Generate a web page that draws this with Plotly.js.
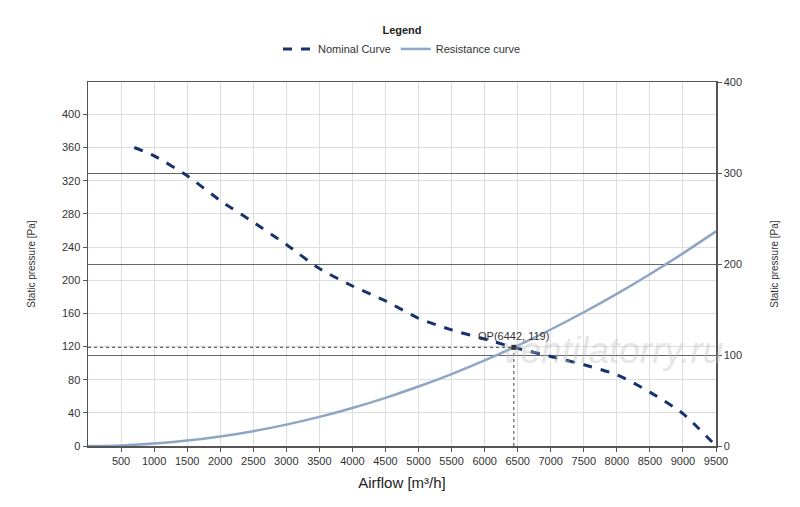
<!DOCTYPE html>
<html>
<head>
<meta charset="utf-8">
<script src="https://cdn.plot.ly/plotly-3.0.1.min.js"></script>
<style>
  html, body { margin: 0; padding: 0; background: #ffffff; }
  #chart { width: 800px; height: 507px; }
</style>
</head>
<body>
<div id="chart"></div>
<script>
// airflow values, m3/h
const nominalFlow = [700, 1000, 1500, 2000, 2500, 3000, 3500, 4000, 4500, 5000, 5500, 6000, 6442, 7000, 7500, 8000, 8500, 9000, 9500]
const nominalPressure = [360, 350, 326, 296, 270, 243, 214, 193, 175, 154, 140, 129, 119, 108, 98, 86, 65, 39, 0]

const resistanceFlow = [0, 500, 1000, 1500, 2000, 2500, 3000, 3500, 4000, 4500, 5000, 5500, 6000, 6500, 7000, 7500, 8000, 8500, 9000, 9500]
const resistancePressure = [0, 0.7, 2.9, 6.5, 11.5, 17.9, 25.8, 35.1, 45.9, 58.1, 71.7, 86.7, 103.2, 121.1, 140.5, 161.3, 183.5, 207.2, 232.3, 258.8]

const opFlow = 6442
const opPressure = 119

const flowTicks = [500, 1000, 1500, 2000, 2500, 3000, 3500, 4000, 4500, 5000, 5500, 6000, 6500, 7000, 7500, 8000, 8500, 9000, 9500]
const leftTicks = [0, 40, 80, 120, 160, 200, 240, 280, 320, 360, 400]
const rightTicks = [0, 100, 200, 300, 400]

const font = 'Liberation Sans, Arial, sans-serif'
const navy = '#16336e'
const steel = '#8ea6c6'

const traces = [
  {
    type: 'scatter',
    mode: 'lines',
    name: 'Nominal Curve',
    x: nominalFlow,
    y: nominalPressure,
    line: { color: navy, width: 3, dash: 'dash', shape: 'spline', smoothing: 0.6 },
    hoverinfo: 'x+y',
  },
  {
    type: 'scatter',
    mode: 'lines',
    name: 'Resistance curve',
    x: resistanceFlow,
    y: resistancePressure,
    line: { color: steel, width: 2.5, shape: 'spline', smoothing: 0.6 },
    hoverinfo: 'x+y',
  },
  {
    type: 'scatter',
    mode: 'markers',
    x: [opFlow],
    y: [opPressure],
    marker: { symbol: 'square', size: 5, color: '#333333' },
    showlegend: false,
    hoverinfo: 'x+y',
  },
  {
    // right hand axis carries no data of its own, just keeps it drawn
    type: 'scatter',
    mode: 'lines',
    x: [0],
    y: [0],
    yaxis: 'y2',
    showlegend: false,
    hoverinfo: 'skip',
    line: { width: 0 },
  },
]

const layout = {
  width: 800,
  height: 507,
  margin: { t: 82, r: 84, b: 61, l: 88 },
  paper_bgcolor: '#ffffff',
  plot_bgcolor: '#ffffff',
  font: { family: font, size: 11, color: '#333333' },
  showlegend: true,
  legend: {
    orientation: 'h',
    x: 0.5,
    xanchor: 'center',
    y: 1.17,
    yanchor: 'top',
    font: { size: 11, color: '#333333' },
    title: { text: '<b>Legend</b>', side: 'top center', font: { size: 11, color: '#222222' } },
    itemwidth: 30,
  },
  xaxis: {
    range: [0, 9500],
    tickvals: flowTicks,
    ticks: 'outside',
    ticklen: 4,
    tickcolor: '#555555',
    showgrid: true,
    gridcolor: '#dedede',
    zeroline: false,
    showline: true,
    linecolor: '#555555',
    linewidth: 1.5,
    mirror: true,
    tickfont: { size: 11, color: '#333333' },
    title: { text: 'Airflow [m³/h]', font: { size: 15, color: '#222222' }, standoff: 12 },
  },
  yaxis: {
    range: [0, 439],
    tickvals: leftTicks,
    ticks: 'outside',
    ticklen: 4,
    tickcolor: '#555555',
    showgrid: true,
    gridcolor: '#dedede',
    zeroline: false,
    showline: true,
    linecolor: '#555555',
    linewidth: 1.5,
    tickfont: { size: 11, color: '#333333' },
    title: { text: 'Static pressure [Pa]', font: { size: 10, color: '#333333' }, standoff: 24 },
  },
  yaxis2: {
    overlaying: 'y',
    side: 'right',
    range: [0, 400],
    tickvals: rightTicks,
    ticks: 'outside',
    ticklen: 4,
    tickcolor: '#555555',
    showgrid: true,
    gridcolor: '#666666',
    gridwidth: 1,
    zeroline: false,
    showline: true,
    linecolor: '#555555',
    linewidth: 1.5,
    tickfont: { size: 11, color: '#333333' },
    title: { text: 'Static pressure [Pa]', font: { size: 10, color: '#333333' }, standoff: 30 },
  },
  shapes: [
    {
      type: 'line', xref: 'x', yref: 'y',
      x0: 0, x1: opFlow, y0: opPressure, y1: opPressure,
      line: { color: '#444444', width: 1, dash: 'dot' },
    },
    {
      type: 'line', xref: 'x', yref: 'y',
      x0: opFlow, x1: opFlow, y0: 0, y1: opPressure,
      line: { color: '#444444', width: 1, dash: 'dot' },
    },
  ],
  annotations: [
    {
      x: opFlow, y: opPressure, xref: 'x', yref: 'y',
      text: 'OP(6442, 119)',
      showarrow: false,
      yshift: 11,
      font: { size: 11, color: '#333333' },
    },
    {
      x: 0.835, y: 0.262, xref: 'paper', yref: 'paper',
      xanchor: 'center', yanchor: 'middle',
      text: 'ventilatorry.ru',
      showarrow: false,
      font: { size: 37, color: 'rgba(190,190,190,0.4)', style: 'italic' },
    },
  ],
}

const config = { staticPlot: true, displayModeBar: false }

Plotly.newPlot('chart', traces, layout, config)
</script>
</body>
</html>
